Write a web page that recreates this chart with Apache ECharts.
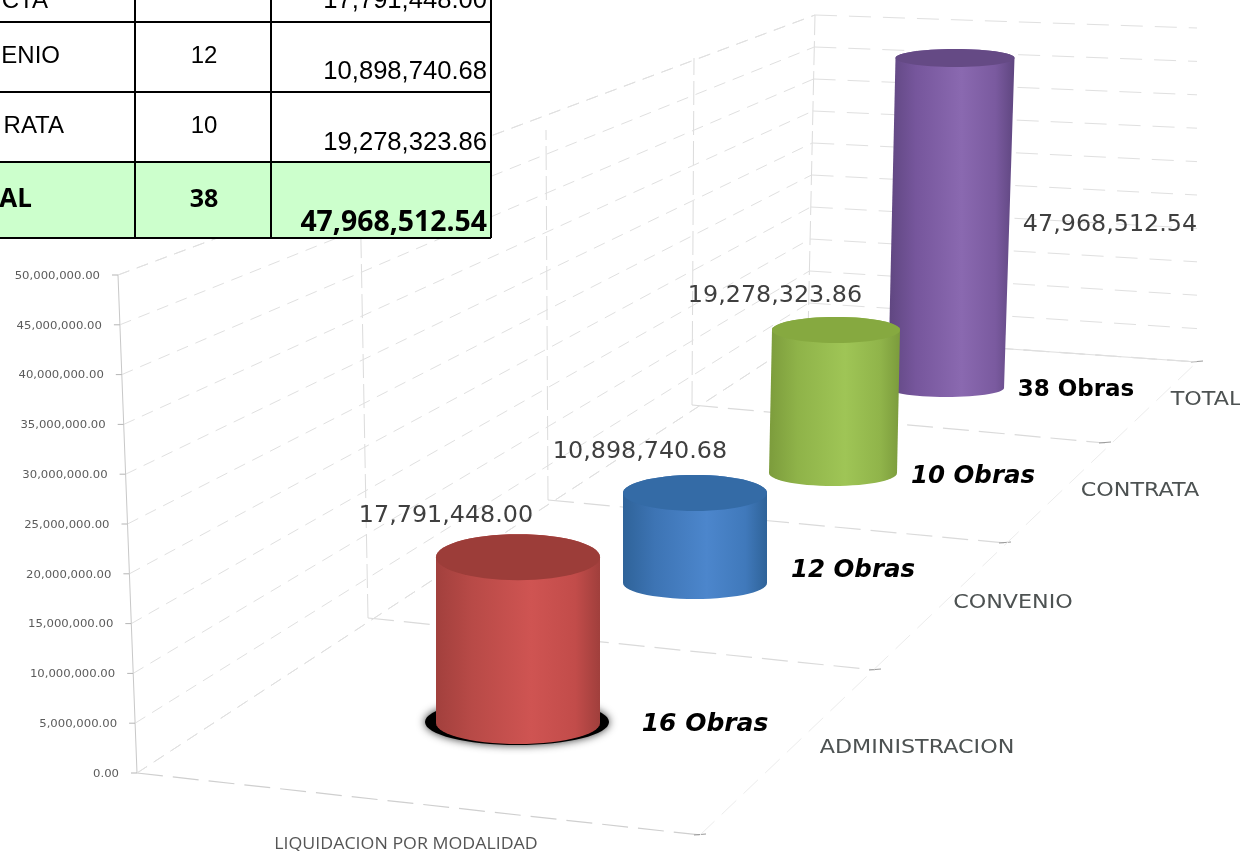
<!DOCTYPE html>
<html><head><meta charset="utf-8">
<style>html,body{margin:0;padding:0;background:#fff}#c{width:1240px;height:851px}</style>
<script src="https://cdn.jsdelivr.net/npm/echarts@6/dist/echarts.min.js"></script>
</head><body><div id="c"></div>
<script>
// ---- data ----
const categories = ['ADMINISTRACION', 'CONVENIO', 'CONTRATA', 'TOTAL'];
const amounts = [17791448.00, 10898740.68, 19278323.86, 47968512.54];
const obras = [16, 12, 10, 38];
const yTicks = [0, 5000000, 10000000, 15000000, 20000000, 25000000, 30000000, 35000000, 40000000, 45000000, 50000000];
const yMax = 50000000;
const axisTitle = 'LIQUIDACION POR MODALIDAD';
const tableNames = ['CTA', 'ENIO', 'RATA', 'AL'];
const tableCounts = ['', '12', '10', '38'];

// ---- layout ----
const money = v => v.toLocaleString('en-US', {minimumFractionDigits: 2, maximumFractionDigits: 2});
const cyl = [
  {left:436, w:164, base:723, full:466, ry:21, try:23, lean:0,  topW:0, c:['#a2403d','#b84a47','#cf5452','#c24c4a','#a03f3c'], top:'#9c3d39',
   lab:[-72,-41], ob:[187,167], obFont:'italic bold 25px "DejaVu Sans"'},
  {left:623, w:144, base:583, full:413, ry:16, try:18, lean:0,  topW:0, c:['#2f6399','#3d74b4','#4c86cc','#4079bb','#2f6399'], top:'#346ba6',
   lab:[-55,-41], ob:[158,78], obFont:'italic bold 24.5px "DejaVu Sans"'},
  {left:769, w:128, base:473, full:371, ry:13, try:13, lean:3,  topW:0, c:['#7c9c3c','#8fb349','#9fc556','#90b44a','#7b9b3c'], top:'#86a940',
   lab:[-58,-34], ob:[140,147], obFont:'italic bold 24.5px "DejaVu Sans"'},
  {left:888, w:116, base:388, full:344, ry:9,  try:9, lean:9,  topW:3, c:['#5f4680','#76569c','#8a69b0','#7a5a9f','#5f4680'], top:'#654a85',
   lab:[164,167], ob:[130,332], obFont:'bold 23px "DejaVu Sans"'}
];
// wall & floor anchor points of the perspective box
const L0=[137,773], L1=[118,275], B0=[808,335], B1=[815,15], R0=[1197,362], R1=[1197,28];
const floorL = [[137,773],[368,618],[548,500],[692,405],[808,335]];
const floorR = [[700,835],[875,670],[1005,543],[1105,443],[1197,362]];
const wallTop = [[118,275],[360,190],[546,130],[694,58],[815,15]];
const catPos = [[917,748],[1013,603],[1140,491],[1206,400]];
const lerp=(a,b,f)=>[a[0]+(b[0]-a[0])*f, a[1]+(b[1]-a[1])*f];
const GRID='#e0e0e0';
const line=(a,b,col,w,dash)=>({type:'line',shape:{x1:a[0],y1:a[1],x2:b[0],y2:b[1]},style:{stroke:col,lineWidth:w,lineDash:dash||null}});
const txt=(t,x,y,font,fill,align,sx)=>({type:'text',x:x,y:y,scaleX:sx||1,style:{text:t,x:0,y:0,font:font,fill:fill,align:align||'center',verticalAlign:'middle'}});

function ellipsePts(cx,cy,rx,ry,a0,a1,n){const p=[];for(let i=0;i<=n;i++){const a=a0+(a1-a0)*i/n;p.push([cx+rx*Math.cos(a),cy+ry*Math.sin(a)]);}return p;}

function renderWall(params,api){
  const v=api.value(1), y=api.coord([0,v])[1], y0=api.coord([0,0])[1], y1=api.coord([0,yMax])[1];
  const f=(y0-y)/(y0-y1);
  const a=lerp(L0,L1,f), b=lerp(B0,B1,f), r=lerp(R0,R1,f);
  return {type:'group',children:[
    line(a,b,GRID,1,[12,8]),
    line(b,r,GRID,1,[22,12]),
    line([a[0]-6,a[1]],a,'#b5b5b5',1),
    txt(money(v),a[0]-18,a[1]+1,'10.8px "DejaVu Sans"','#5c5c5c','right',1.08)
  ]};
}
function renderBox(){
  const ch=[];
  floorL.forEach((p,i)=>{
    ch.push(line(p,wallTop[i],i===0?'#c8c8c8':'#dcdcdc',1,i===0?null:[24,6]));
    ch.push(line(p,floorR[i],i===0?'#cfcfcf':'#dadada',1.2,[26,10]));
    ch.push(line([floorR[i][0]-6,floorR[i][1]],[floorR[i][0]+6,floorR[i][1]-1],'#9a9a9a',1));
  });
  ch.push(line(floorL[0],floorL[4],GRID,1,[12,8]));
  ch.push(line(floorR[0],floorR[4],'#ececec',1,[20,10]));
  ch.push(line(wallTop[0],wallTop[4],GRID,1,[12,8]));
  ch.push(line(B0,R0,GRID,1,[24,12]));
  categories.forEach((c,i)=>ch.push(txt(c,catPos[i][0],catPos[i][1],'19.6px "DejaVu Sans"','#4d5252','center',1.135)));
  ch.push(txt(axisTitle,406,845,'15.4px "Open Sans"','#555','center',1.155));
  return {type:'group',children:ch};
}
function renderCyl(i){
  return function(params,api){
    const k=cyl[i];
    const b=api.coord([api.value(0),0]), t=api.coord([api.value(0),api.value(1)]);
    const w=api.size([1,0])[0];
    const cxT=t[0]+k.lean, rxB=w/2, rxT=w/2+k.topW/2;
    const pts=[].concat(
      ellipsePts(cxT,t[1],rxT,k.try,Math.PI,2*Math.PI,30),
      ellipsePts(b[0],b[1],rxB,k.ry,0,Math.PI,30));
    const grad=new echarts.graphic.LinearGradient(0,0,1,0,[
      {offset:0,color:k.c[0]},{offset:.22,color:k.c[1]},{offset:.58,color:k.c[2]},{offset:.85,color:k.c[3]},{offset:1,color:k.c[4]}]);
    const ch=[];
    if(i===0){
      ch.push({type:'ellipse',shape:{cx:b[0]-1,cy:b[1]-1,rx:rxB+10,ry:k.ry+2},style:{fill:'#000',shadowBlur:9,shadowColor:'rgba(0,0,0,.8)'}});
    }
    ch.push({type:'polygon',shape:{points:pts},style:{fill:grad}});
    ch.push({type:'polygon',shape:{points:ellipsePts(cxT,t[1],rxT,k.try,0,2*Math.PI,60)},style:{fill:k.top}});
    ch.push(txt(money(api.value(1)),t[0]+k.lab[0],t[1]+k.lab[1],'22.6px "DejaVu Sans"','#3f3f3f','center',1.055));
    ch.push(txt(obras[i]+' Obras',t[0]+k.ob[0],t[1]+k.ob[1],k.obFont,'#000'));
    return {type:'group',children:ch};
  };
}

// ---- table (graphic component) ----
const tableG=[];
const hL=[22,92,162,238], vL=[135,271,491];
const rowY=[1,56,126,200], valY=[1,72,143,223];
tableG.push({type:'rect',shape:{x:0,y:0,width:491,height:238},style:{fill:'#fff'},z:5});
tableG.push({type:'rect',shape:{x:0,y:162,width:491,height:76},style:{fill:'#ccffcc'},z:5});
hL.forEach(y=>tableG.push({type:'line',shape:{x1:0,y1:y,x2:491,y2:y},style:{stroke:'#000',lineWidth:2},z:6}));
vL.forEach(x=>tableG.push({type:'line',shape:{x1:x,y1:0,x2:x,y2:238},style:{stroke:'#000',lineWidth:2},z:6}));
tableNames.forEach((n,i)=>{
  const bold=i===3;
  tableG.push({type:'text',z:7,style:{text:n,x:bold?32:(i===0?48:(i===1?60:64)),y:rowY[i],font:bold?'bold 26px "Open Sans"':'24px "Liberation Sans"',fill:'#000',align:'right',verticalAlign:'middle'}});
  if(tableCounts[i])tableG.push({type:'text',z:7,style:{text:tableCounts[i],x:204,y:rowY[i],font:bold?'bold 25px "Open Sans"':'24px "Liberation Sans"',fill:'#000',align:'center',verticalAlign:'middle'}});
  tableG.push({type:'text',z:7,style:{text:money(amounts[i]),x:487,y:valY[i],font:bold?'bold 28.4px "Open Sans"':'25.6px "Liberation Sans"',fill:'#000',align:'right',verticalAlign:'middle'}});
});

// ---- option ----
const grids=[{left:118,top:275,width:20,height:498}], xAxes=[{type:'category',gridIndex:0,data:[''],show:false}],
      yAxes=[{type:'value',gridIndex:0,min:0,max:yMax,interval:5000000,show:false}], series=[];
series.push({type:'custom',xAxisIndex:0,yAxisIndex:0,clip:false,silent:true,z:1,data:[[0,0]],encode:{x:0,y:1},renderItem:renderBox});
series.push({type:'custom',xAxisIndex:0,yAxisIndex:0,clip:false,silent:true,z:1,data:yTicks.map(v=>[0,v]),encode:{x:0,y:1},renderItem:renderWall});
[3,2,1,0].forEach((i,order)=>{
  const k=cyl[i], g=grids.length;
  grids.push({left:k.left,width:k.w,top:k.base-k.full,height:k.full});
  xAxes.push({type:'category',gridIndex:g,data:[categories[i]],show:false});
  yAxes.push({type:'value',gridIndex:g,min:0,max:yMax,show:false});
  series.push({type:'custom',name:categories[i],xAxisIndex:g,yAxisIndex:g,clip:false,silent:true,z:2+order,
    data:[[0,amounts[i]]],encode:{x:0,y:1},renderItem:renderCyl(i)});
});
const chart=echarts.init(document.getElementById('c'),null,{renderer:'canvas'});
chart.setOption({animation:false,backgroundColor:'#fff',tooltip:{show:false},grid:grids,xAxis:xAxes,yAxis:yAxes,series:series,graphic:{elements:tableG}});
</script></body></html>
